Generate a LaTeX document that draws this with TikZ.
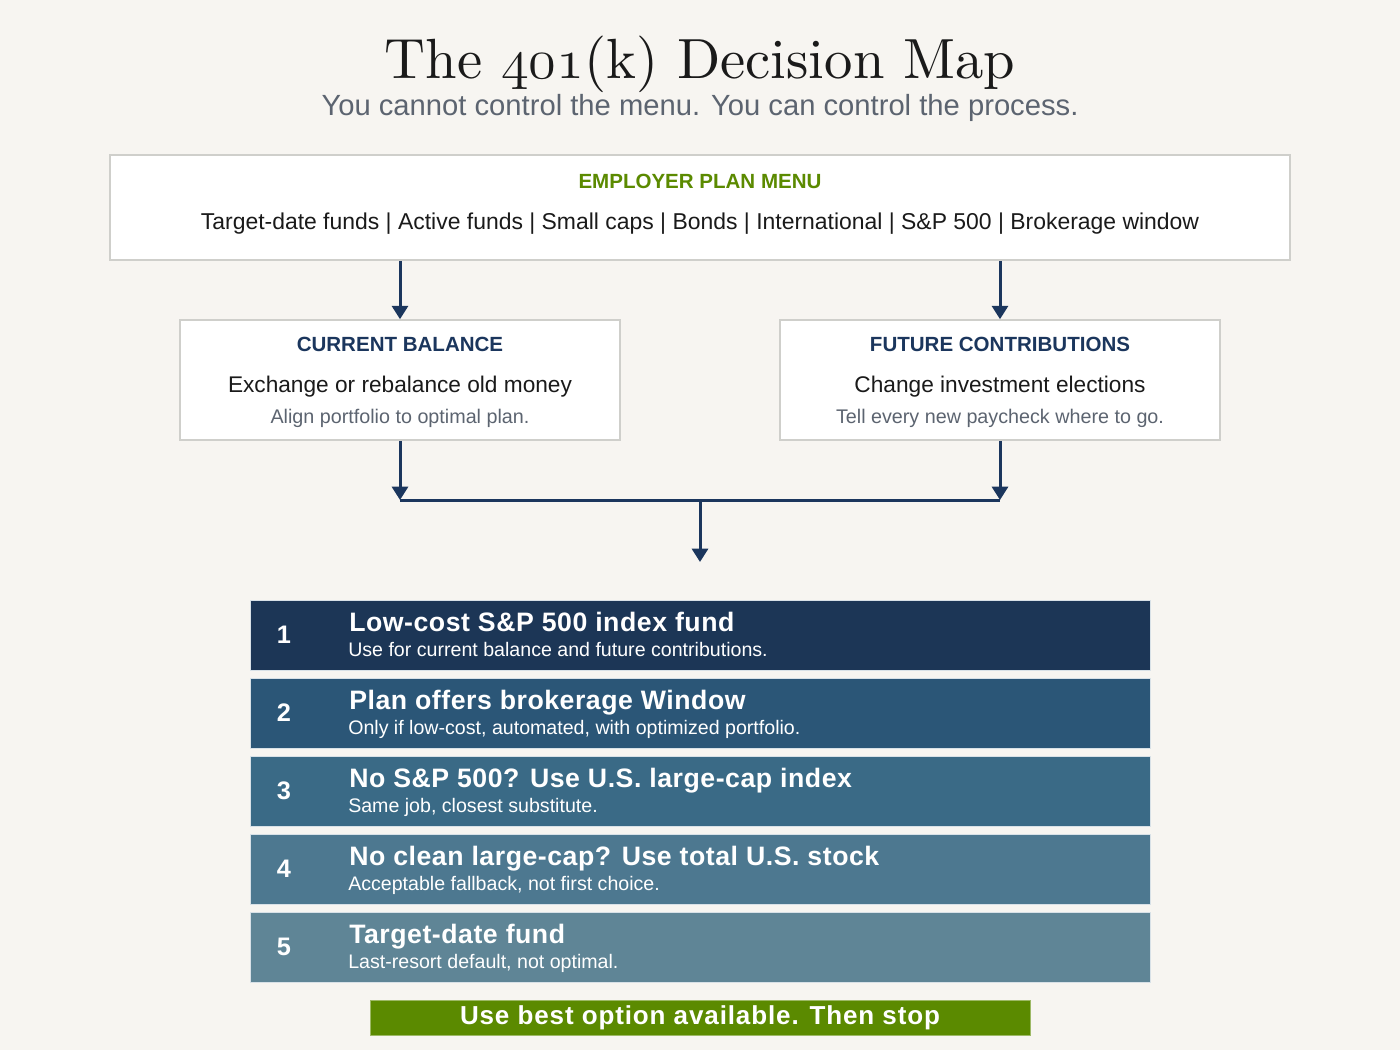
\RequirePackage{fix-cm}
\documentclass[tikz,border=0pt]{standalone}
\usepackage{fontspec}
\setsansfont{Liberation Sans}
\newfontfamily\titlefont{lmroman10-regular.otf}
\newcommand{\oldnums}[1]{{\fontencoding{OML}\fontfamily{cmm}\fontseries{m}\fontshape{it}\selectfont #1}}
\usetikzlibrary{positioning, arrows.meta}
\definecolor{paper}{HTML}{F7F5F1}
\definecolor{navy}{HTML}{1B365D}
\definecolor{frame}{HTML}{CFCFCB}
\definecolor{leaf}{HTML}{5B8A00}
\definecolor{muted}{HTML}{5C6470}
\definecolor{ink}{HTML}{1A1A1A}
\definecolor{tierA}{HTML}{1C3656}
\definecolor{tierB}{HTML}{2B5677}
\definecolor{tierC}{HTML}{3A6A86}
\definecolor{tierD}{HTML}{4D7890}
\definecolor{tierE}{HTML}{5F8596}

\begin{document}
\begin{tikzpicture}[
          x=0.75pt, y=-0.75pt,
          panel/.style={rectangle, draw=frame, line width=1.2pt, fill=white,
                        inner sep=0pt},
          head/.style={font=\sffamily\bfseries\fontsize{15.4}{18}\selectfont, text=navy},
          main/.style={font=\sffamily\fontsize{17}{20}\selectfont, text=ink},
          note/.style={font=\sffamily\fontsize{14.8}{17}\selectfont, text=muted},
          tier/.style={rectangle, draw=white!80!tierC, line width=0.6pt,
                       minimum width=675pt, minimum height=52.5pt, inner sep=0pt},
          arrow/.style={-{Triangle[width=12pt,length=10pt]}, draw=navy, line width=2.25pt},
          link/.style={draw=navy, line width=2.25pt},
        ]
        \fill[paper] (0,0) rectangle (1400,1050);
        \useasboundingbox (0,0) rectangle (1400,1050);

        \node[font=\titlefont\fontsize{42.5}{46}\selectfont, text=ink, anchor=base] (title) at (700,78)
              {The \oldnums{401}(k) Decision Map};
        \node[font=\sffamily\fontsize{21.9}{25}\selectfont, text=muted, anchor=base] (subtitle) at (700,115)
              {You cannot control the menu. You can control the process.};

        \node[panel, minimum width=885pt, minimum height=78.75pt] (menu) at (700,207.5) {};
        \node[head, text=leaf, anchor=base] (menuhead) at (700,188) {EMPLOYER PLAN MENU};
        \node[main, font=\sffamily\fontsize{17.2}{20}\selectfont, anchor=base] (menuitems) at (700,229)
              {Target-date funds | Active funds | Small caps | Bonds | International | S\&P 500 | Brokerage window};

        \node[panel, minimum width=330pt, minimum height=90pt] (cur) at (400,380) {};
        \node[head, anchor=base] (curhead) at (400,351) {CURRENT BALANCE};
        \node[main, anchor=base] (curmain) at (400,392) {Exchange or rebalance old money};
        \node[note, anchor=base] (curnote) at (400,423) {Align portfolio to optimal plan.};

        \node[panel, minimum width=330pt, minimum height=90pt] (fut) at (1000,380) {};
        \node[head, anchor=base] (futhead) at (1000,351) {FUTURE CONTRIBUTIONS};
        \node[main, anchor=base] (futmain) at (1000,392) {Change investment elections};
        \node[note, anchor=base] (futnote) at (1000,423) {Tell every new paycheck where to go.};

        \draw[arrow] (cur.north |- menu.south) -- (cur.north);
        \draw[arrow] (fut.north |- menu.south) -- (fut.north);

        \coordinate (join) at (700,500);
        \coordinate (drop) at (700,562);
        \draw[arrow] (cur.south) -- (cur.south |- join);
        \draw[arrow] (fut.south) -- (fut.south |- join);
        \draw[link] (cur.south |- join) -- (fut.south |- join);
        \draw[arrow] (join) -- (drop);

        \foreach \n/\col/\title/\sub in {
              1/tierA/{Low-cost S\&P 500 index fund}/{Use for current balance and future contributions.},
              2/tierB/{Plan offers brokerage Window}/{Only if low-cost, automated, with optimized portfolio.},
              3/tierC/{No S\&P 500? Use U.S. large-cap index}/{Same job, closest substitute.},
              4/tierD/{No clean large-cap? Use total U.S. stock}/{Acceptable fallback, not first choice.},
              5/tierE/{Target-date fund}/{Last-resort default, not optimal.}} {
          \node[tier, fill=\col] (tier\n) at (700,{635+(\n-1)*78}) {};
          \node[font=\sffamily\bfseries\fontsize{19}{22}\selectfont, text=white] (num\n)
                at (284,{635+(\n-1)*78}) {\n};
          \node[font=\sffamily\bfseries\fontsize{20}{24}\selectfont\addfontfeatures{LetterSpace=2},
                text=white, anchor=base west, inner sep=0pt] (name\n)
                at (349,{631+(\n-1)*78}) {\title};
          \node[font=\sffamily\fontsize{14.7}{17}\selectfont, text=white, anchor=base west, inner sep=0pt] (hint\n)
                at (348,{656+(\n-1)*78}) {\sub};
        }

        \node[rectangle, fill=leaf, draw=leaf!60!white, line width=0.6pt,
              minimum width=495pt, minimum height=26.25pt, inner sep=0pt,
              font=\sffamily\bfseries\fontsize{19.5}{22}\selectfont\addfontfeatures{LetterSpace=3.4},
              text=white] (rule) at (700,1017.5) {Use best option available. Then stop};
      \end{tikzpicture}
\end{document}
